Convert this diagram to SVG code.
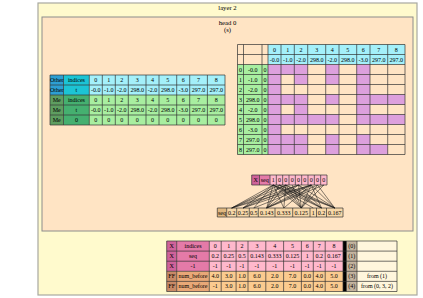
<svg xmlns="http://www.w3.org/2000/svg" width="423" height="298" viewBox="0 0 423 298">
<style>
text{font-family:"Liberation Serif","DejaVu Serif",serif;font-size:6px;text-anchor:middle;fill:#000}
.t{font-size:6.7px}
.g{fill:none;stroke:#333;stroke-width:0.7}
.ob{fill:#2d9fd2}.oi{fill:#1cc4d4}.ov{fill:#a4f0fa}
.mb{fill:#5e9e60}.mi{fill:#45b070}.mv{fill:#a8eea0}
.pu{fill:#dda0dd}.pe{fill:#ffe4c4}
.xa{fill:#cf629a}.xb{fill:#e47aa8}.xc{fill:#ffb8cc}
.fa{fill:#c98a66}.fb{fill:#e9a877}.fc{fill:#fbcb8f}
.sa{fill:#e0b880}.sc{fill:#f8d8a8}
.lk{fill:none;stroke:#1a1a1a;stroke-width:0.55}
</style>
<g id="cluster-layer2">
<rect x="38" y="3" width="379" height="292" fill="#fffacd" stroke="#a8a8a0" stroke-width="1.2"/>
<text class="t" x="227.5" y="9.8">layer 2</text>
</g>
<g id="cluster-head0">
<rect x="42" y="17" width="371" height="214" fill="#ffe4c4" stroke="#8c8c8c" stroke-width="1"/>
<text class="t" x="227.5" y="24.8">head 0</text>
<text class="t" x="227.5" y="32.3">(s)</text>
</g>
<g id="node-tokens">
<rect class="ob" x="50" y="75" width="13.5" height="20"/>
<rect class="oi" x="63.5" y="75" width="25.8" height="20"/>
<rect class="ov" x="89.3" y="75" width="135.7" height="20"/>
<rect class="mb" x="50" y="95" width="13.5" height="30"/>
<rect class="mi" x="63.5" y="95" width="25.8" height="30"/>
<rect class="mv" x="89.3" y="95" width="135.7" height="30"/>
<path class="g" d="M50 75H225M50 85H225M50 95H225M50 105H225M50 115H225M50 125H225M50 75V125M63.5 75V125M89.3 75V125M102.3 75V125M115.3 75V125M128.3 75V125M146 75V125M159 75V125M176.7 75V125M189.7 75V125M207.4 75V125M225 75V125"/>
<text x="56.75" y="82">Other</text><text x="76.4" y="82">indices</text>
<text x="95.8" y="82">0</text><text x="108.8" y="82">1</text><text x="121.8" y="82">2</text><text x="137.15" y="82">3</text><text x="152.5" y="82">4</text><text x="167.85" y="82">5</text><text x="183.2" y="82">6</text><text x="198.55" y="82">7</text><text x="216.2" y="82">8</text>
<text x="56.75" y="92">Other</text><text x="76.4" y="92">t</text>
<text x="95.8" y="92">-0.0</text><text x="108.8" y="92">-1.0</text><text x="121.8" y="92">-2.0</text><text x="137.15" y="92">298.0</text><text x="152.5" y="92">-2.0</text><text x="167.85" y="92">298.0</text><text x="183.2" y="92">-3.0</text><text x="198.55" y="92">297.0</text><text x="216.2" y="92">297.0</text>
<text x="56.75" y="102">Me</text><text x="76.4" y="102">indices</text>
<text x="95.8" y="102">0</text><text x="108.8" y="102">1</text><text x="121.8" y="102">2</text><text x="137.15" y="102">3</text><text x="152.5" y="102">4</text><text x="167.85" y="102">5</text><text x="183.2" y="102">6</text><text x="198.55" y="102">7</text><text x="216.2" y="102">8</text>
<text x="56.75" y="112">Me</text><text x="76.4" y="112">t</text>
<text x="95.8" y="112">-0.0</text><text x="108.8" y="112">-1.0</text><text x="121.8" y="112">-2.0</text><text x="137.15" y="112">298.0</text><text x="152.5" y="112">-2.0</text><text x="167.85" y="112">298.0</text><text x="183.2" y="112">-3.0</text><text x="198.55" y="112">297.0</text><text x="216.2" y="112">297.0</text>
<text x="56.75" y="122">Me</text><text x="76.4" y="122">0</text>
<text x="95.8" y="122">0</text><text x="108.8" y="122">0</text><text x="121.8" y="122">0</text><text x="137.15" y="122">0</text><text x="152.5" y="122">0</text><text x="167.85" y="122">0</text><text x="183.2" y="122">0</text><text x="198.55" y="122">0</text><text x="216.2" y="122">0</text>
</g>
<g id="node-select">
<rect class="pe" x="237.5" y="44.5" width="30.5" height="20"/>
<rect class="ov" x="268" y="44.5" width="137" height="20"/>
<rect class="mv" x="237.5" y="64.5" width="30.5" height="90"/>
<rect class="pe" x="268" y="64.5" width="137" height="90"/>
<rect class="pu" x="268" y="64.5" width="13" height="90"/>
<rect class="pu" x="281" y="64.5" width="26.7" height="10"/><rect class="pu" x="325.7" y="64.5" width="13.3" height="10"/><rect class="pu" x="356.7" y="64.5" width="13.3" height="10"/>
<rect class="pu" x="294.3" y="74.5" width="13.4" height="10"/><rect class="pu" x="325.7" y="74.5" width="13.3" height="10"/><rect class="pu" x="356.7" y="74.5" width="13.3" height="10"/>
<rect class="pu" x="356.7" y="84.5" width="13.3" height="10"/>
<rect class="pu" x="281" y="94.5" width="26.7" height="10"/><rect class="pu" x="325.7" y="94.5" width="13.3" height="10"/><rect class="pu" x="356.7" y="94.5" width="48.3" height="10"/>
<rect class="pu" x="294.3" y="104.5" width="13.4" height="10"/><rect class="pu" x="356.7" y="104.5" width="13.3" height="10"/>
<rect class="pu" x="281" y="114.5" width="58" height="10"/><rect class="pu" x="356.7" y="114.5" width="48.3" height="10"/>
<rect class="pu" x="281" y="134.5" width="26.7" height="10"/><rect class="pu" x="325.7" y="134.5" width="13.3" height="10"/><rect class="pu" x="356.7" y="134.5" width="13.3" height="10"/>
<rect class="pu" x="281" y="144.5" width="26.7" height="10"/><rect class="pu" x="325.7" y="144.5" width="13.3" height="10"/><rect class="pu" x="356.7" y="144.5" width="31" height="10"/>
<path class="g" d="M237.5 44.5H405M237.5 54.5H405M237.5 64.5H405M237.5 74.5H405M237.5 84.5H405M237.5 94.5H405M237.5 104.5H405M237.5 114.5H405M237.5 124.5H405M237.5 134.5H405M237.5 144.5H405M237.5 154.5H405M237.5 44.5V154.5M243.5 44.5V154.5M262 44.5V154.5M268 44.5V154.5M281 44.5V154.5M294.3 44.5V154.5M307.7 44.5V154.5M325.7 44.5V154.5M339 44.5V154.5M356.7 44.5V154.5M370 44.5V154.5M387.7 44.5V154.5M405 44.5V154.5"/>
<text x="274.5" y="51.5">0</text><text x="287.65" y="51.5">1</text><text x="301" y="51.5">2</text><text x="316.7" y="51.5">3</text><text x="332.35" y="51.5">4</text><text x="347.85" y="51.5">5</text><text x="363.35" y="51.5">6</text><text x="378.85" y="51.5">7</text><text x="396.35" y="51.5">8</text>
<text x="274.5" y="61.5">-0.0</text><text x="287.65" y="61.5">-1.0</text><text x="301" y="61.5">-2.0</text><text x="316.7" y="61.5">298.0</text><text x="332.35" y="61.5">-2.0</text><text x="347.85" y="61.5">298.0</text><text x="363.35" y="61.5">-3.0</text><text x="378.85" y="61.5">297.0</text><text x="396.35" y="61.5">297.0</text>
<text x="240.5" y="71.5">0</text><text x="252.75" y="71.5">-0.0</text><text x="265" y="71.5">0</text>
<text x="240.5" y="81.5">1</text><text x="252.75" y="81.5">-1.0</text><text x="265" y="81.5">0</text>
<text x="240.5" y="91.5">2</text><text x="252.75" y="91.5">-2.0</text><text x="265" y="91.5">0</text>
<text x="240.5" y="101.5">3</text><text x="252.75" y="101.5">298.0</text><text x="265" y="101.5">0</text>
<text x="240.5" y="111.5">4</text><text x="252.75" y="111.5">-2.0</text><text x="265" y="111.5">0</text>
<text x="240.5" y="121.5">5</text><text x="252.75" y="121.5">298.0</text><text x="265" y="121.5">0</text>
<text x="240.5" y="131.5">6</text><text x="252.75" y="131.5">-3.0</text><text x="265" y="131.5">0</text>
<text x="240.5" y="141.5">7</text><text x="252.75" y="141.5">297.0</text><text x="265" y="141.5">0</text>
<text x="240.5" y="151.5">8</text><text x="252.75" y="151.5">297.0</text><text x="265" y="151.5">0</text>
</g>
<g id="node-seq-in">
<rect class="xa" x="251.7" y="175" width="7.8" height="10"/>
<rect class="xb" x="259.5" y="175" width="10.5" height="10"/>
<rect class="xc" x="270" y="175" width="57" height="10"/>
<path class="g" d="M251.7 175H327M251.7 185H327M251.7 175V185M259.5 175V185M270 175V185M276.33 175V185M282.67 175V185M289 175V185M295.33 175V185M301.67 175V185M308 175V185M314.33 175V185M320.67 175V185M327 175V185"/>
<text x="255.6" y="182">X</text><text x="264.75" y="182">seq</text>
<text x="273.17" y="182">1</text><text x="279.5" y="182">0</text><text x="285.83" y="182">0</text><text x="292.17" y="182">0</text><text x="298.5" y="182">0</text><text x="304.83" y="182">0</text><text x="311.17" y="182">0</text><text x="317.5" y="182">0</text><text x="323.83" y="182">0</text>
</g>
<g id="node-seq-out">
<rect class="sa" x="217.3" y="208" width="9.4" height="9"/>
<rect class="sc" x="226.7" y="208" width="116.3" height="9"/>
<path class="g" d="M217.3 208H343M217.3 217H343M217.3 208V217M226.7 208V217M236.7 208V217M249.3 208V217M258.3 208V217M275 208V217M292.7 208V217M310 208V217M316.5 208V217M326.5 208V217M343 208V217"/>
<text x="222" y="214.8">seq</text><text x="231.7" y="214.8">0.2</text><text x="243" y="214.8">0.25</text><text x="253.8" y="214.8">0.5</text><text x="266.65" y="214.8">0.143</text><text x="283.85" y="214.8">0.333</text><text x="301.35" y="214.8">0.125</text><text x="313.25" y="214.8">1</text><text x="321.5" y="214.8">0.2</text><text x="334.75" y="214.8">0.167</text>
</g>
<g id="connectors">
<path class="lk" d="M273.17 185L231.7 208M279.5 185L231.7 208M285.83 185L231.7 208M298.5 185L231.7 208M311.17 185L231.7 208
M273.17 185L243 208M285.83 185L243 208M298.5 185L243 208M311.17 185L243 208
M273.17 185L253.8 208M311.17 185L253.8 208
M273.17 185L266.65 208M279.5 185L266.65 208M285.83 185L266.65 208M298.5 185L266.65 208M311.17 185L266.65 208M317.5 185L266.65 208M323.83 185L266.65 208
M273.17 185L283.85 208M285.83 185L283.85 208M311.17 185L283.85 208
M273.17 185L301.35 208M279.5 185L301.35 208M285.83 185L301.35 208M292.17 185L301.35 208M298.5 185L301.35 208M311.17 185L301.35 208M317.5 185L301.35 208M323.83 185L301.35 208
M273.17 185L313.25 208
M273.17 185L321.5 208M279.5 185L321.5 208M285.83 185L321.5 208M298.5 185L321.5 208M311.17 185L321.5 208
M273.17 185L334.75 208M279.5 185L334.75 208M285.83 185L334.75 208M298.5 185L334.75 208M311.17 185L334.75 208M317.5 185L334.75 208"/>
</g>
<g id="node-table">
<rect class="xa" x="166.7" y="241" width="10" height="30.3"/>
<rect class="xb" x="176.7" y="241" width="32.6" height="30.3"/>
<rect class="xc" x="209.3" y="241" width="133.7" height="30.3"/>
<rect class="fa" x="166.7" y="271.3" width="10" height="20.2"/>
<rect class="fb" x="176.7" y="271.3" width="32.6" height="20.2"/>
<rect class="fc" x="209.3" y="271.3" width="133.7" height="20.2"/>
<rect x="343" y="241" width="3.5" height="50.5" fill="#000"/>
<rect x="346.5" y="241" width="10.5" height="50.5" fill="#c5b49f"/>
<rect x="357" y="241" width="40" height="50.5" fill="#fff6dc"/>
<path class="g" d="M166.7 241H397M166.7 251.1H397M166.7 261.2H397M166.7 271.3H397M166.7 281.4H397M166.7 291.5H397M166.7 241V291.5M176.7 241V291.5M209.3 241V291.5M221.2 241V291.5M236.1 241V291.5M248 241V291.5M265.8 241V291.5M283.6 241V291.5M301.4 241V291.5M313.3 241V291.5M325.2 241V291.5M343 241V291.5M346.5 241V291.5M357 241V291.5M397 241V291.5"/>
<text x="171.7" y="248">X</text><text x="193" y="248">indices</text>
<text x="215.25" y="248">0</text><text x="228.65" y="248">1</text><text x="242.05" y="248">2</text><text x="256.9" y="248">3</text><text x="274.7" y="248">4</text><text x="292.5" y="248">5</text><text x="307.35" y="248">6</text><text x="319.25" y="248">7</text><text x="334.1" y="248">8</text><text x="351.75" y="248">(0)</text>
<text x="171.7" y="258.1">X</text><text x="193" y="258.1">seq</text>
<text x="215.25" y="258.1">0.2</text><text x="228.65" y="258.1">0.25</text><text x="242.05" y="258.1">0.5</text><text x="256.9" y="258.1">0.143</text><text x="274.7" y="258.1">0.333</text><text x="292.5" y="258.1">0.125</text><text x="307.35" y="258.1">1</text><text x="319.25" y="258.1">0.2</text><text x="334.1" y="258.1">0.167</text><text x="351.75" y="258.1">(1)</text>
<text x="171.7" y="268.2">X</text><text x="193" y="268.2">-1</text>
<text x="215.25" y="268.2">-1</text><text x="228.65" y="268.2">-1</text><text x="242.05" y="268.2">-1</text><text x="256.9" y="268.2">-1</text><text x="274.7" y="268.2">-1</text><text x="292.5" y="268.2">-1</text><text x="307.35" y="268.2">-1</text><text x="319.25" y="268.2">-1</text><text x="334.1" y="268.2">-1</text><text x="351.75" y="268.2">(2)</text>
<text x="171.7" y="278.3">FF</text><text x="193" y="278.3">num_before</text>
<text x="215.25" y="278.3">4.0</text><text x="228.65" y="278.3">3.0</text><text x="242.05" y="278.3">1.0</text><text x="256.9" y="278.3">6.0</text><text x="274.7" y="278.3">2.0</text><text x="292.5" y="278.3">7.0</text><text x="307.35" y="278.3">0.0</text><text x="319.25" y="278.3">4.0</text><text x="334.1" y="278.3">5.0</text><text x="351.75" y="278.3">(3)</text><text x="377" y="278.3">from (1)</text>
<text x="171.7" y="288.4">FF</text><text x="193" y="288.4">num_before</text>
<text x="215.25" y="288.4">-1</text><text x="228.65" y="288.4">3.0</text><text x="242.05" y="288.4">1.0</text><text x="256.9" y="288.4">6.0</text><text x="274.7" y="288.4">2.0</text><text x="292.5" y="288.4">7.0</text><text x="307.35" y="288.4">0.0</text><text x="319.25" y="288.4">4.0</text><text x="334.1" y="288.4">5.0</text><text x="351.75" y="288.4">(4)</text><text x="377" y="288.4">from (0, 3, 2)</text>
</g>
</svg>
